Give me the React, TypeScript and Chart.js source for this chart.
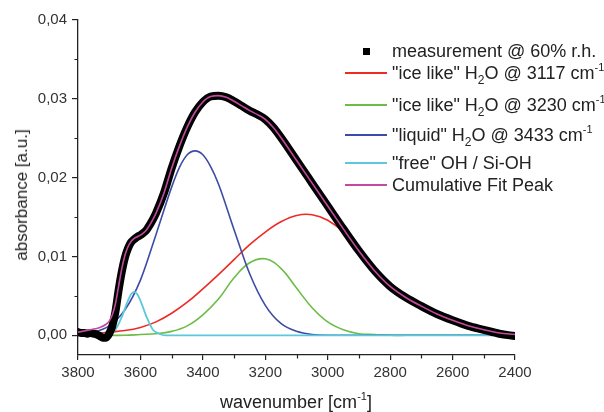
import React, { useEffect, useRef } from "react";
import { Chart, registerables } from "chart.js";

Chart.register(...registerables);

// ---------- data ----------
const MEAS_X = [3800, 3790, 3780, 3770, 3760, 3750, 3740, 3730, 3720, 3710, 3700, 3690, 3680, 3670, 3660, 3650, 3640, 3630, 3620, 3610, 3600, 3590, 3580, 3570, 3560, 3550, 3525, 3500, 3475, 3450, 3425, 3400, 3375, 3350, 3325, 3300, 3275, 3250, 3225, 3200, 3175, 3150, 3100, 3050, 3000, 2950, 2900, 2850, 2800, 2750, 2700, 2650, 2600, 2550, 2500, 2450, 2400];
const MEAS_Y = [0.0004, 0.0003, 0.0003, 0.0002, 0.0003, 0.0002, 0.0001, -0.0001, -0.0003, -0.0003, 0.0002, 0.0012, 0.003, 0.0057, 0.008, 0.0098, 0.011, 0.0118, 0.0122, 0.0125, 0.0127, 0.013, 0.0134, 0.014, 0.0147, 0.0155, 0.018, 0.0212, 0.024, 0.0264, 0.0283, 0.0296, 0.0303, 0.0304, 0.0302, 0.0297, 0.0291, 0.0285, 0.028, 0.0274, 0.0264, 0.0251, 0.0222, 0.0193, 0.0164, 0.0135, 0.0107, 0.0082, 0.0062, 0.0048, 0.0037, 0.0027, 0.0019, 0.0012, 0.0007, 0.0002, -0.0001];

const CUM_X = [3800, 3760, 3730, 3710, 3700, 3690, 3680, 3670, 3660, 3650, 3640, 3630, 3620, 3610, 3600, 3590, 3580, 3570, 3560, 3550, 3525, 3500, 3475, 3450, 3425, 3400, 3375, 3350, 3325, 3300, 3275, 3250, 3225, 3200, 3175, 3150, 3100, 3050, 3000, 2950, 2900, 2850, 2800, 2750, 2700, 2650, 2600, 2550, 2500, 2450, 2400];
const CUM_Y = [0.0004, 0.0007, 0.001, 0.0014, 0.0018, 0.0026, 0.004, 0.0062, 0.0084, 0.0101, 0.0112, 0.0119, 0.0123, 0.0125, 0.0127, 0.013, 0.0134, 0.014, 0.0147, 0.0155, 0.018, 0.0212, 0.024, 0.0264, 0.0283, 0.0296, 0.0303, 0.0304, 0.0302, 0.0297, 0.0291, 0.0285, 0.028, 0.0274, 0.0264, 0.0251, 0.0222, 0.0193, 0.0164, 0.0135, 0.0107, 0.0082, 0.0062, 0.0048, 0.0037, 0.0027, 0.0019, 0.0012, 0.0007, 0.0003, 0.0001];

const GRID_X = [3800, 3750, 3700, 3650, 3600, 3550, 3500, 3450, 3400, 3350, 3300, 3250, 3200, 3150, 3100, 3050, 3000, 2950, 2900, 2850, 2800, 2750, 2700, 2650, 2600, 2550, 2500, 2450, 2400];
const ICE_3117 = [0.0001, 0.0002, 0.0004, 0.0006, 0.001, 0.0017, 0.0028, 0.0042, 0.0059, 0.0077, 0.0096, 0.0115, 0.0131, 0.0144, 0.0152, 0.0153, 0.0146, 0.0131, 0.0107, 0.0082, 0.0062, 0.0048, 0.0037, 0.0027, 0.0019, 0.0012, 0.0007, 0.0003, 0.0001];
const ICE_3230 = [0, 0, 0, 0, 0.0001, 0.0002, 0.0005, 0.0012, 0.0026, 0.0046, 0.0073, 0.0092, 0.0097, 0.0085, 0.006, 0.0035, 0.0017, 0.0007, 0.0002, 0.0001, 0, 0, 0, 0, 0, 0, 0, 0, 0];

const LIQ_X = [3800, 3750, 3700, 3650, 3600, 3550, 3500, 3475, 3450, 3425, 3400, 3375, 3350, 3300, 3250, 3200, 3150, 3100, 3050, 3000, 2950, 2900, 2400];
const LIQ_Y = [0.0002, 0.0004, 0.0012, 0.0032, 0.007, 0.0128, 0.0188, 0.0213, 0.0229, 0.0234, 0.0229, 0.0214, 0.0192, 0.0134, 0.0078, 0.0038, 0.0015, 0.0005, 0.0001, 0, 0, 0, 0];

const FREE_X = [3800, 3700, 3680, 3660, 3640, 3630, 3620, 3610, 3600, 3580, 3560, 3540, 3520, 3500, 2400];
const FREE_Y = [0, 0.0002, 0.0007, 0.0023, 0.0044, 0.0052, 0.0055, 0.0052, 0.0044, 0.0023, 0.0007, 0.0002, 0, 0, 0];

const X_MIN = 2400;
const X_MAX = 3800;
const Y_MIN = -0.0025;
const Y_MAX = 0.04;
const X_MAJOR = 200;
const Y_MAJOR = 0.01;

const FONT = "'Liberation Sans', Arial, sans-serif";
const COLORS = {
  meas: "#000000",
  ice3117: "#ee2a24",
  ice3230: "#6bbd45",
  liquid: "#3c4ca6",
  free: "#5cc8dd",
  cum: "#c24a9f",
};

const pts = (xs: number[], ys: number[]) => xs.map((x, i) => ({ x, y: ys[i] }));

const minorTicks = {
  id: "minorTicks",
  afterDraw(chart: any) {
    const { ctx, scales, chartArea } = chart;
    const xs = scales.x;
    const ys = scales.y;
    ctx.save();
    ctx.strokeStyle = "#222";
    ctx.lineWidth = 1.2;
    ctx.beginPath();
    for (let v = X_MIN + X_MAJOR / 2; v < X_MAX; v += X_MAJOR) {
      const px = Math.round(xs.getPixelForValue(v)) + 0.5;
      ctx.moveTo(px, chartArea.bottom);
      ctx.lineTo(px, chartArea.bottom + 3.5);
    }
    for (let v = Y_MAJOR / 2; v < Y_MAX; v += Y_MAJOR) {
      const py = Math.round(ys.getPixelForValue(v)) + 0.5;
      ctx.moveTo(chartArea.left, py);
      ctx.lineTo(chartArea.left - 3.5, py);
    }
    ctx.stroke();
    ctx.restore();
  },
};

function Sub({ children }: { children: any }) {
  return (
    <span style={{ fontSize: "12px", position: "relative", top: "5px", verticalAlign: "baseline" }}>{children}</span>
  );
}
function Sup({ children }: { children: any }) {
  return (
    <span style={{ fontSize: "11px", position: "relative", top: "-8px", verticalAlign: "baseline" }}>{children}</span>
  );
}

const legendRows = [
  { y: 51.7, color: null as string | null, content: <>measurement @ 60% r.h.</> },
  { y: 73.3, color: COLORS.ice3117, content: <>"ice like" H<Sub>2</Sub>O @ 3117 cm<Sup>-1</Sup></> },
  { y: 105, color: COLORS.ice3230, content: <>"ice like" H<Sub>2</Sub>O @ 3230 cm<Sup>-1</Sup></> },
  { y: 135, color: COLORS.liquid, content: <>"liquid" H<Sub>2</Sub>O @ 3433 cm<Sup>-1</Sup></> },
  { y: 163, color: COLORS.free, content: <>"free" OH / Si-OH</> },
  { y: 185, color: COLORS.cum, content: <>Cumulative Fit Peak</> },
];

export default function App() {
  const ref = useRef<HTMLCanvasElement>(null);

  useEffect(() => {
    const canvas = ref.current;
    if (!canvas) return;
    const mono = { pointRadius: 0, pointHoverRadius: 0, fill: false, cubicInterpolationMode: "monotone" as const };
    const smooth = { pointRadius: 0, pointHoverRadius: 0, fill: false, tension: 0.4 };
    const chart = new Chart(canvas, {
      type: "line",
      data: {
        datasets: [
          { label: "Cumulative Fit Peak", data: pts(CUM_X, CUM_Y), borderColor: COLORS.cum, borderWidth: 1.6, order: 0, ...mono },
          { label: "measurement @ 60% r.h.", data: pts(MEAS_X, MEAS_Y), borderColor: COLORS.meas, borderWidth: 8, borderJoinStyle: "round", borderCapStyle: "round", order: 1, ...mono },
          { label: "free OH / Si-OH", data: pts(FREE_X, FREE_Y), borderColor: COLORS.free, borderWidth: 1.8, order: 2, ...mono },
          { label: "liquid H2O @ 3433", data: pts(LIQ_X, LIQ_Y), borderColor: COLORS.liquid, borderWidth: 1.6, order: 3, ...mono },
          { label: "ice like H2O @ 3230", data: pts(GRID_X, ICE_3230), borderColor: COLORS.ice3230, borderWidth: 1.6, order: 4, ...smooth },
          { label: "ice like H2O @ 3117", data: pts(GRID_X, ICE_3117), borderColor: COLORS.ice3117, borderWidth: 1.6, order: 5, ...smooth },
        ],
      },
      options: {
        animation: false,
        responsive: false,
        maintainAspectRatio: false,
        events: [],
        layout: { padding: { left: 0, right: 89, top: 20, bottom: 0 } },
        plugins: { legend: { display: false }, tooltip: { enabled: false }, title: { display: false } },
        scales: {
          x: {
            type: "linear",
            reverse: true,
            min: X_MIN,
            max: X_MAX,
            afterFit: (s: any) => {
              s.height = 57;
            },
            border: { display: true, color: "#222", width: 1.3 },
            grid: { display: true, drawOnChartArea: false, drawTicks: true, tickLength: 5, color: "#222", tickColor: "#222", lineWidth: 1.2 },
            ticks: {
              stepSize: X_MAJOR,
              includeBounds: false,
              padding: 4,
              color: "#333",
              font: { family: FONT, size: 15 },
              maxRotation: 0,
              autoSkip: false,
              callback: (v: any) => String(Math.round(Number(v))),
            },
          },
          y: {
            type: "linear",
            min: Y_MIN,
            max: Y_MAX,
            afterFit: (s: any) => {
              s.width = 78;
            },
            border: { display: true, color: "#222", width: 1.3 },
            grid: { display: true, drawOnChartArea: false, drawTicks: true, tickLength: 6, color: "#222", tickColor: "#222", lineWidth: 1.2 },
            ticks: {
              stepSize: Y_MAJOR,
              includeBounds: false,
              padding: 5,
              color: "#333",
              font: { family: FONT, size: 15 },
              autoSkip: false,
              callback: (v: any) => {
                const n = Number(v);
                return (Math.abs(n) < 1e-9 ? 0 : n).toFixed(2).replace(".", ",");
              },
            },
          },
        },
      },
      plugins: [minorTicks],
    } as any);
    return () => chart.destroy();
  }, []);

  return (
    <div style={{ position: "fixed", left: 0, top: 0, width: 604, height: 412, background: "#fff", fontFamily: FONT, color: "#222" }}>
      <canvas ref={ref} width={604} height={412} style={{ position: "absolute", left: 0, top: 0, width: 604, height: 412 }} />
      {legendRows.map((r, i) => (
        <React.Fragment key={i}>
          {r.color ? (
            <div style={{ position: "absolute", left: 345, top: r.y - 1, width: 42, height: 2, background: r.color }} />
          ) : (
            <div style={{ position: "absolute", left: 363, top: r.y - 3.5, width: 7, height: 7, background: "#000" }} />
          )}
          <div style={{ position: "absolute", left: 392, top: r.y - 11.5, height: 22, lineHeight: "22px", fontSize: 18, whiteSpace: "nowrap" }}>
            {r.content}
          </div>
        </React.Fragment>
      ))}
      <div style={{ position: "absolute", left: 296, top: 403, transform: "translate(-50%, -50%)", fontSize: 18, whiteSpace: "nowrap", lineHeight: "22px" }}>
        wavenumber [cm<Sup>-1</Sup>]
      </div>
      <div style={{ position: "absolute", left: 22, top: 195, transform: "translate(-50%, -50%) rotate(-90deg)", fontSize: 17, whiteSpace: "nowrap", lineHeight: "20px" }}>
        absorbance [a.u.]
      </div>
    </div>
  );
}
